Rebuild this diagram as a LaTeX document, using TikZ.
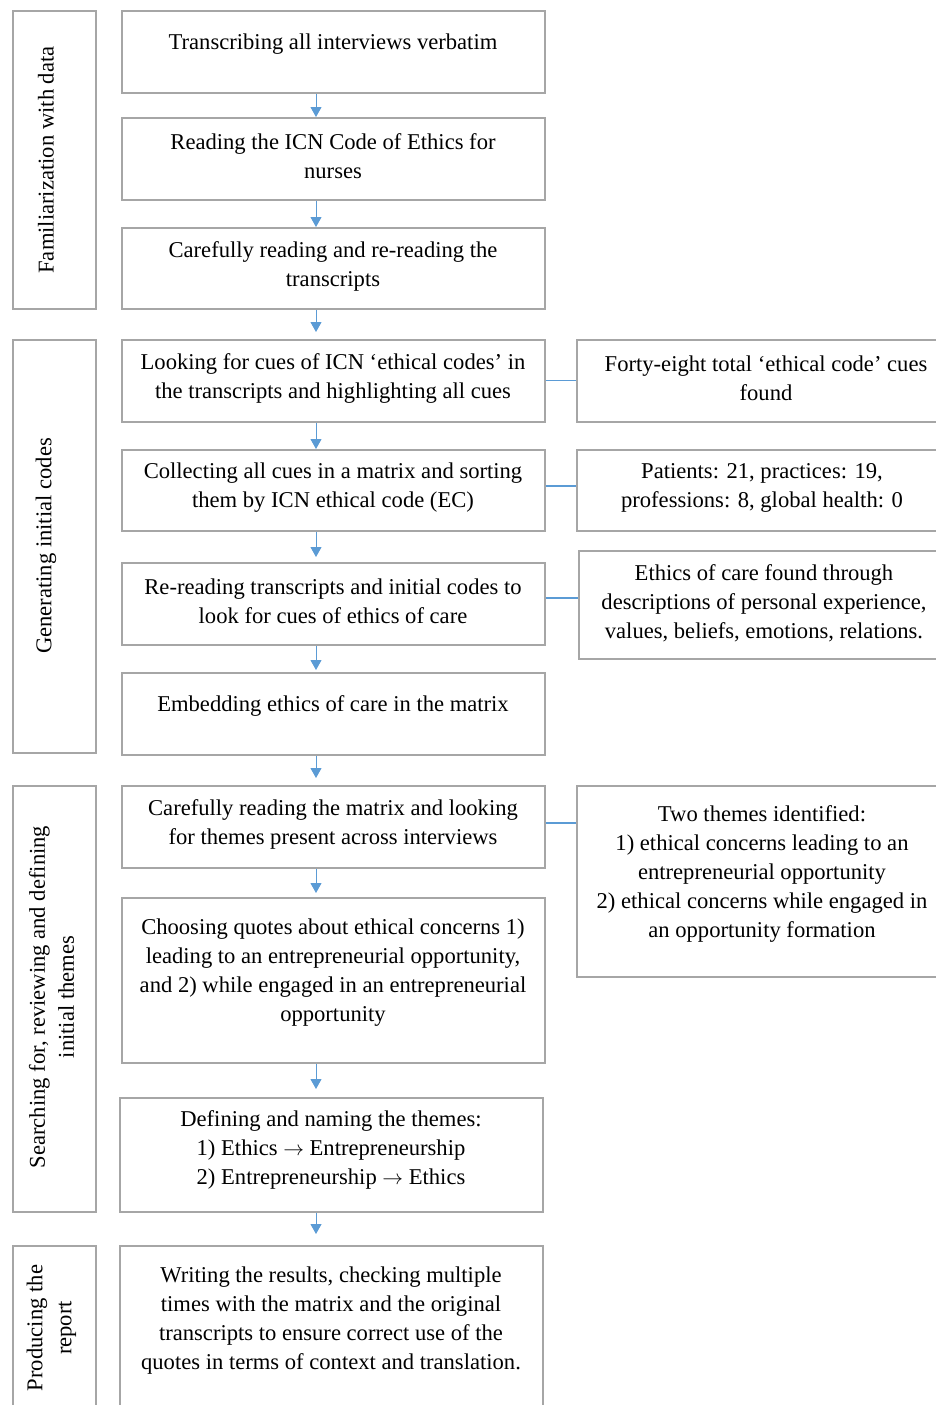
\documentclass[tikz,border=0pt]{standalone}
\usepackage{fontspec}
\setmainfont{Liberation Serif}
\usetikzlibrary{arrows.meta}
\definecolor{boxgray}{HTML}{A6A6A6}
\definecolor{flowblue}{HTML}{5B9BD5}
\begin{document}
\begin{tikzpicture}[x=1pt,y=-1pt,
  box/.style={draw=boxgray, line width=1.6pt, inner sep=0pt, anchor=north west},
  txt/.style={align=center, inner sep=0pt, font=\fontsize{22.6}{29}\selectfont},
  phase/.style={txt, rotate=90},
  flow/.style={draw=flowblue, line width=1pt, -{Triangle[width=11pt,length=10pt]}},
  link/.style={draw=flowblue, line width=1.4pt}]
\useasboundingbox (0,0) rectangle (936,1405);
\clip (0,0) rectangle (936,1405);
\fill[white] (0,0) rectangle (936,1405);

% phase column
\node[box, minimum width=83pt, minimum height=298pt] (p1) at (12,10) {};
\node[box, minimum width=83pt, minimum height=413pt] (p2) at (12,339) {};
\node[box, minimum width=83pt, minimum height=426pt] (p3) at (12,785) {};
\node[box, minimum width=83pt, minimum height=200pt] (p4) at (12,1245) {};
\node[phase] (pt1) at (46,160) {Familiarization with data};
\node[phase] (pt2) at (46,546) {Generating initial codes};
\node[phase] (pt3) at (51.5,997) {Searching for, reviewing and defining\\initial themes};
\node[phase] (pt4) at (51.5,1328) {Producing the\\report};

% main steps
\node[box, minimum width=423pt, minimum height=82pt] (b1) at (121,10) {};
\node[box, minimum width=423pt, minimum height=82pt] (b2) at (121,117) {};
\node[box, minimum width=423pt, minimum height=81pt] (b3) at (121,227) {};
\node[box, minimum width=423pt, minimum height=82pt] (b4) at (121,339) {};
\node[box, minimum width=423pt, minimum height=81pt] (b5) at (121,449) {};
\node[box, minimum width=423pt, minimum height=82pt] (b6) at (121,562) {};
\node[box, minimum width=423pt, minimum height=82pt] (b7) at (121,672) {};
\node[box, minimum width=423pt, minimum height=82pt] (b8) at (121,785) {};
\node[box, minimum width=423pt, minimum height=165pt] (b9) at (121,897) {};
\node[box, minimum width=423pt, minimum height=114pt] (b10) at (119,1097) {};
\node[box, minimum width=423pt, minimum height=200pt] (b11) at (119,1245) {};

\node[txt] (t1) at (333,44) {Transcribing all interviews verbatim};
\node[txt] (t2) at (333,156) {Reading the ICN Code of Ethics for\\nurses};
\node[txt] (t3) at (333,266) {Carefully reading and re-reading the\\transcripts};
\node[txt] (t4) at (333,378) {Looking for cues of ICN ‘ethical codes’ in\\the transcripts and highlighting all cues};
\node[txt] (t5) at (333,488) {Collecting all cues in a matrix and sorting\\them by ICN ethical code (EC)};
\node[txt] (t6) at (333,601) {Re-reading transcripts and initial codes to\\look for cues of ethics of care};
\node[txt] (t7) at (333,706) {Embedding ethics of care in the matrix};
\node[txt] (t8) at (333,824) {Carefully reading the matrix and looking\\for themes present across interviews};
\node[txt] (t9) at (333,973) {Choosing quotes about ethical concerns 1)\\leading to an entrepreneurial opportunity,\\and 2) while engaged in an entrepreneurial\\opportunity};
\node[txt] (t10) at (331,1150) {Defining and naming the themes:\\1) Ethics $\rightarrow$ Entrepreneurship\\2) Entrepreneurship $\rightarrow$ Ethics};
\node[txt] (t11) at (331,1321) {Writing the results, checking multiple\\times with the matrix and the original\\transcripts to ensure correct use of the\\quotes in terms of context and translation.};

% findings column
\node[box, minimum width=372pt, minimum height=82pt] (r1) at (576,339) {};
\node[box, minimum width=372pt, minimum height=81pt] (r2) at (576,449) {};
\node[box, minimum width=372pt, minimum height=108pt] (r3) at (578,550) {};
\node[box, minimum width=372pt, minimum height=191pt] (r4) at (576,785) {};
\node[txt] (s1) at (766,378) {Forty-eight total ‘ethical code’ cues\\found};
\node[txt] (s2) at (762,488) {Patients: 21, practices: 19,\\professions: 8, global health: 0};
\node[txt] (s3) at (764,603) {Ethics of care found through\\descriptions of personal experience,\\values, beliefs, emotions, relations.};
\node[txt] (s4) at (762,873.5) {Two themes identified:\\1) ethical concerns leading to an\\entrepreneurial opportunity\\2) ethical concerns while engaged in\\an opportunity formation};

% downward flow
\coordinate (ax) at (316,0);
\draw[flow] (b1.south -| ax) -- (b2.north -| ax);
\draw[flow] (b2.south -| ax) -- (b3.north -| ax);
\draw[flow, shorten >=7pt] (b3.south -| ax) -- (b4.north -| ax);
\draw[flow] (b4.south -| ax) -- (b5.north -| ax);
\draw[flow, shorten >=5pt] (b5.south -| ax) -- (b6.north -| ax);
\draw[flow, shorten >=2pt] (b6.south -| ax) -- (b7.north -| ax);
\draw[flow, shorten >=7pt] (b7.south -| ax) -- (b8.north -| ax);
\draw[flow, shorten >=4pt] (b8.south -| ax) -- (b9.north -| ax);
\draw[flow, shorten >=8pt] (b9.south -| ax) -- (b10.north -| ax);
\draw[flow, shorten >=11pt] (b10.south -| ax) -- (b11.north -| ax);

% side links
\coordinate (l4) at (0,380.5);
\coordinate (l5) at (0,486);
\coordinate (l6) at (0,598);
\coordinate (l8) at (0,823);
\draw[link] (b4.east |- l4) -- (r1.west |- l4);
\draw[link] (b5.east |- l5) -- (r2.west |- l5);
\draw[link] (b6.east |- l6) -- (r3.west |- l6);
\draw[link] (b8.east |- l8) -- (r4.west |- l8);
\end{tikzpicture}
\end{document}
